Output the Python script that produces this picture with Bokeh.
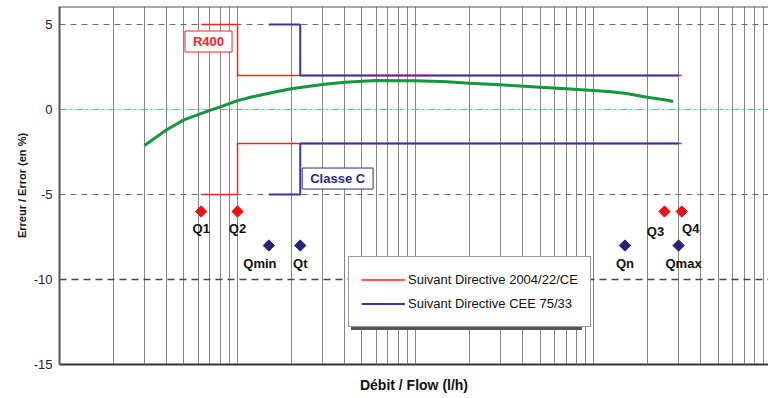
import math
from bokeh.plotting import figure
from bokeh.models import (Range1d, FixedTicker, Grid, Span, Label, Legend,
                          LegendItem, Title)
from bokeh.core.properties import value
from bokeh.embed import file_html
from bokeh.resources import INLINE

FONT = "Liberation Sans"

# ---- data -------------------------------------------------------------
flow = [3, 4, 5, 6, 7, 8, 10, 12, 15, 20, 30, 40, 60, 100, 150, 200, 300, 500,
        700, 1000, 1250, 1500, 2000, 2500, 2800]
error = [-2.12, -1.19, -0.61, -0.30, -0.05, 0.16, 0.52, 0.74, 0.96, 1.22, 1.47, 1.61,
         1.71, 1.69, 1.63, 1.55, 1.45, 1.31, 1.22, 1.12, 1.05, 0.96, 0.72, 0.57, 0.47]

# Directive 2004/22/CE (R400) limits
red_flow = [6.25, 10, 10, 3125]
red_upper = [5, 5, 2, 2]
red_lower = [-5, -5, -2, -2]
# Directive CEE 75/33 (Classe C) limits
blue_flow = [15, 22.5, 22.5, 3000]
blue_upper = [5, 5, 2, 2]
blue_lower = [-5, -5, -2, -2]

red_names = ["Q1", "Q2", "Q3", "Q4"]
red_q = [6.25, 10, 2500, 3125]
red_err = [-6, -6, -6, -6]
blue_names = ["Qmin", "Qt", "Qn", "Qmax"]
blue_q = [15, 22.5, 1500, 3000]
blue_err = [-8, -8, -8, -8]

y_ticks = [5, 0, -5, -10, -15]
legend_labels = ["Suivant Directive 2004/22/CE", "Suivant Directive CEE 75/33"]
box_texts = ["R400", "Classe C"]

# ---- styles / layout ----------------------------------------------------
RED = "#ff2020"
BLUE = "#3838a4"
GREEN = "#14963e"
red_dx = [0, 0, -9, 9]
red_dy = [17, 17, 20, 17]
blue_dx = [-9, 0, 0, 5]
blue_dy = [18, 18, 18, 18]
box_x = [6.87, 36.5]
box_y = [4.0, -4.06]
box_colors = [RED, "#2a2a90"]

y_top = 6.06
p = figure(width=768, height=397, x_axis_type="log",
           x_range=Range1d(1, 9600), y_range=Range1d(-15, y_top),
           output_backend="svg", toolbar_location=None,
           min_border_left=59, min_border_right=0, min_border_top=6,
           min_border_bottom=33, background_fill_color="white",
           border_fill_color="white", outline_line_color=None)

# axes
p.xaxis.ticker = FixedTicker(ticks=[], minor_ticks=[])
p.xaxis.axis_line_color = "#333333"
p.xaxis.axis_line_width = 2
p.xaxis.major_tick_out = 0
p.xaxis.major_label_standoff = 0
p.xaxis.axis_label = "Débit / Flow (l/h)"
p.xaxis.axis_label_text_font = FONT
p.xaxis.axis_label_text_font_style = "bold"
p.xaxis.axis_label_text_font_size = "14px"
p.xaxis.axis_label_text_color = "#111111"
p.xaxis.axis_label_standoff = 12

p.yaxis.ticker = FixedTicker(ticks=y_ticks, minor_ticks=[])
p.yaxis.major_label_overrides = {t: str(t) for t in y_ticks}
p.yaxis.axis_line_color = "#555555"
p.yaxis.axis_line_width = 2
p.yaxis.major_tick_out = 0
p.yaxis.major_tick_in = 0
p.yaxis.major_label_standoff = 7
p.yaxis.major_label_text_font = FONT
p.yaxis.major_label_text_font_size = "13px"
p.yaxis.major_label_text_color = "#222222"

# y axis title, shifted up a little as in the original
p.add_layout(Title(text="Erreur / Error (en %)", align="center", offset=27,
                   text_font=FONT, text_font_style="bold", text_font_size="11px",
                   text_color="#111111", standoff=5), "left")

# grids
p.xgrid.ticker = FixedTicker(ticks=[k * 10 ** d for d in range(4) for k in range(1, 10)])
p.xgrid.grid_line_color = "#858585"
p.xgrid.grid_line_width = 1
p.ygrid.grid_line_color = None
p.add_layout(Grid(dimension=1, ticker=FixedTicker(ticks=[5, -5]),
                  grid_line_color="#6a6a6a", grid_line_dash="6 5", grid_line_width=1))
p.add_layout(Grid(dimension=1, ticker=FixedTicker(ticks=[-10]),
                  grid_line_color="#444444", grid_line_dash="7 5", grid_line_width=1.5))
p.add_layout(Grid(dimension=1, ticker=FixedTicker(ticks=[0]),
                  grid_line_color="#ff7070", grid_line_dash="8 3 2 3", grid_line_width=1))
p.add_layout(Span(location=y_top, dimension="width", line_color="#555555", line_width=2))

# limits
r_up = p.line(red_flow, red_upper, line_color=RED, line_width=1.5)
p.line(red_flow, red_lower, line_color=RED, line_width=1.5)
b_up = p.line(blue_flow, blue_upper, line_color=BLUE, line_width=2)
p.line(blue_flow, blue_lower, line_color=BLUE, line_width=2)

# curve
p.line(flow, error, line_color=GREEN, line_width=3, line_join="round")

# points
p.scatter(red_q, red_err, marker="square", angle=math.pi / 4, size=8,
          fill_color="#ee1111", line_color="#ee1111")
p.scatter(blue_q, blue_err, marker="square", angle=math.pi / 4, size=8,
          fill_color="#24247e", line_color="#24247e")
p.text(red_q, red_err, text=red_names, x_offset=red_dx, y_offset=red_dy,
       text_align="center", text_baseline="middle", text_font=value(FONT),
       text_font_style="bold", text_font_size="13px", text_color="#111111")
p.text(blue_q, blue_err, text=blue_names, x_offset=blue_dx, y_offset=blue_dy,
       text_align="center", text_baseline="middle", text_font=value(FONT),
       text_font_style="bold", text_font_size="13px", text_color="#111111")

# boxed labels
for t, bx, by, c in zip(box_texts, box_x, box_y, box_colors):
    p.add_layout(Label(x=bx, y=by, text=t, text_align="center", text_baseline="middle",
                       text_font=FONT, text_font_style="bold", text_font_size="13px",
                       text_color=c, border_line_color=c, border_line_width=1,
                       background_fill_color="white", padding=(8, 3)))

# legend with shadow
dummy = p.line([], [], line_alpha=0)
common = dict(glyph_width=44, glyph_height=21, label_height=21, spacing=3,
              padding=12, label_standoff=3, margin=0, label_width=160,
              label_text_font=FONT, label_text_font_size="13px")
shadow = Legend(items=[LegendItem(label=" ", renderers=[dummy]),
                       LegendItem(label="  ", renderers=[dummy])],
                location=(292, 34), background_fill_color="#555555",
                background_fill_alpha=1, border_line_alpha=0, label_text_alpha=0, **common)
main = Legend(items=[LegendItem(label=legend_labels[0], renderers=[r_up]),
                     LegendItem(label=legend_labels[1], renderers=[b_up])],
              location=(289, 37), background_fill_color="white", background_fill_alpha=1,
              border_line_color="#333333", border_line_width=1,
              label_text_color="#111111", **common)
p.add_layout(shadow, "center")
p.add_layout(main, "center")

open("out.html", "w").write(file_html(p, INLINE))
